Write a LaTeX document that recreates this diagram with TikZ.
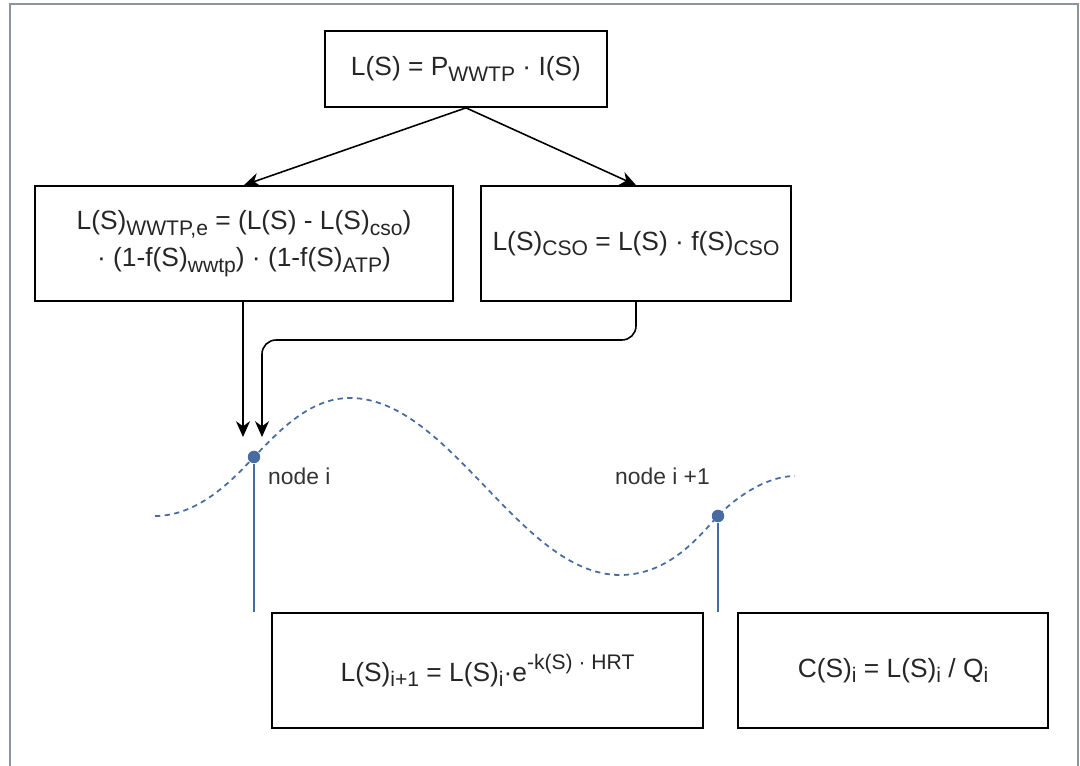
\documentclass[tikz,border=0pt]{standalone}
\usepackage{fontspec}
\setmainfont{Liberation Sans}
\usetikzlibrary{arrows.meta}
\definecolor{pipe}{RGB}{72,108,162}
\definecolor{frame}{RGB}{140,148,160}
\newcommand\sbs[1]{\raisebox{-0.4ex}{\fontsize{12}{12}\selectfont #1}}
\newcommand\sps[1]{\raisebox{0.85ex}{\fontsize{12}{12}\selectfont #1}}
\begin{document}
\begin{tikzpicture}[x=0.02cm,y=-0.02cm,
    eqbox/.style={rectangle,draw,line width=1pt,align=center,text=black!85,font=\fontsize{15}{21}\selectfont},
    arr/.style={-{Stealth[length=9pt,width=8pt]},line width=0.9pt},
    dot/.style={circle,fill=pipe,inner sep=0pt,minimum size=0.25cm},
    lbl/.style={font=\fontsize{13}{15}\selectfont,text=black!80}]
  \useasboundingbox (0,0) rectangle (1080,766);
  \draw[frame,line width=1.3pt] (10,766) -- (10,4) -- (1078,4) -- (1078,766);

  \node[eqbox,minimum width=5.64cm,minimum height=1.52cm] (load) at (466,69) {L(S) = P\sbs{WWTP} · I(S)};
  \node[eqbox,minimum width=8.36cm,minimum height=2.3cm] (wwtp) at (244,243.5) {L(S)\sbs{WWTP,e} = (L(S) - L(S)\sbs{cso})\\ · (1-f(S)\sbs{wwtp}) · (1-f(S)\sbs{ATP})};
  \node[eqbox,minimum width=6.2cm,minimum height=2.3cm] (cso) at (636,243.5) {L(S)\sbs{CSO} = L(S) · f(S)\sbs{CSO}};
  \node[eqbox,minimum width=8.62cm,minimum height=2.3cm] (decay) at (487.5,670.5) {L(S)\sbs{i+1} = L(S)\sbs{i}·e\sps{-k(S) · HRT}};
  \node[eqbox,minimum width=6.2cm,minimum height=2.3cm] (conc) at (893,670.5) {C(S)\sbs{i} = L(S)\sbs{i} / Q\sbs{i}};

  \draw[arr] (load.south) -- (wwtp.north);
  \draw[arr] (load.south) -- (cso.north);

  % river
  \draw[pipe,line width=1pt,dash pattern=on 3pt off 2.5pt]
    (155,516) .. controls (200,516) and (235,477) .. (254,457)
    .. controls (280,430) and (310,398) .. (350,398)
    .. controls (450,398) and (520,575) .. (620,575)
    .. controls (670,575) and (700,535) .. (718,516)
    .. controls (740,493) and (770,476) .. (795,476);

  \node[dot] (ni) at (254,457) {};
  \node[dot] (nj) at (718,516) {};
  \coordinate (ei) at (254,612);
  \coordinate (ej) at (718,612);
  \draw[pipe,line width=0.9pt] (ni) -- (ei);
  \draw[pipe,line width=0.9pt] (nj) -- (ej);
  \node[lbl,anchor=west] (li) at (262,476) {node i};
  \node[lbl,anchor=east] (lj) at (716,476) {node i +1};

  \coordinate (inl) at (243,437);
  \coordinate (inr) at (262,437);
  \coordinate (bend) at (262,340);
  \draw[arr] (wwtp.south -| inl) -- (inl);
  \draw[arr,rounded corners=8pt] (cso.south) |- (bend) -- (inr);
\end{tikzpicture}
\end{document}
